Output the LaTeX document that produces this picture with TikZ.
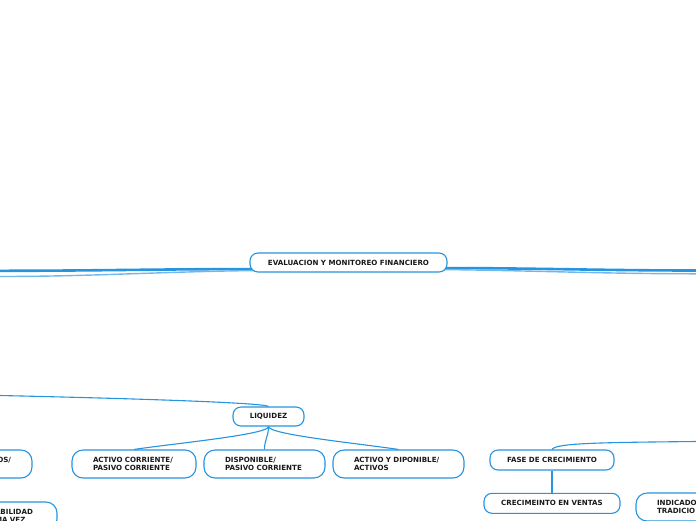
\documentclass[tikz,border=0pt]{standalone}
\usepackage{fontspec}
\setmainfont{DejaVu Sans}
\usetikzlibrary{calc}
\definecolor{mblue}{RGB}{38,148,222}
\definecolor{lblue}{RGB}{110,185,236}
\definecolor{ink}{RGB}{25,25,25}
\pgfdeclarelayer{bg}
\pgfsetlayers{bg,main}
\tikzset{
  topic/.style={draw=mblue, line width=1.1pt, fill=white, rounded corners=8pt,
    font=\fontsize{7.1}{8}\selectfont\bfseries, text=ink, inner sep=0pt, align=center},
  twoline/.style={topic, rounded corners=11pt, minimum height=28pt, align=left,
    inner xsep=21pt, inner ysep=0pt},
  link/.style={draw=mblue, line width=1.1pt},
  mainlink/.style={draw=mblue, line width=2.6pt},
  sublink/.style={draw=lblue, line width=1.4pt},
}
\begin{document}
\begin{tikzpicture}[x=1pt, y=-1pt]
\path[use as bounding box] (0,0) rectangle (696,520);
\clip (0,0) rectangle (696,520);

% nodes
\node[topic, minimum width=197pt, minimum height=19pt] (root) at (348.5,262.5) {EVALUACION Y MONITOREO FINANCIERO};
\node[topic, minimum width=71pt, minimum height=19pt] (liq) at (268.5,416.5) {LIQUIDEZ};
\node[twoline, text width=82pt] (c1) at (134,464) {ACTIVO CORRIENTE/\\PASIVO CORRIENTE};
\node[twoline, text width=79pt] (c2) at (264.5,464) {DISPONIBLE/\\PASIVO CORRIENTE};
\node[twoline, text width=89pt] (c3) at (398.5,464) {ACTIVO Y DIPONIBLE/\\ACTIVOS};
\node[twoline, text width=82pt, align=right] (os) at (-30,464) {OS/\\\mbox{}};
\node[twoline, text width=41pt] (ab) at (15.5,516) {ABILIDAD\\MA VEZ};
\node[topic, minimum width=124pt, minimum height=20pt] (fase) at (552,460) {FASE DE CRECIMIENTO};
\node[topic, minimum width=136pt, minimum height=20pt] (cv) at (552,503.3) {CRECIMEINTO EN VENTAS};
\node[twoline, text width=82pt] (ind) at (698,507) {INDICADO\\TRADICIO};

% off-canvas ends
\coordinate (L1) at (0,270.8);
\coordinate (L2) at (0,276.5);
\coordinate (R1) at (696,270.5);
\coordinate (R2) at (696,273.8);
\coordinate (LQin) at (0,395.5);
\coordinate (Fin) at (696,441.5);

\begin{pgfonlayer}{bg}
\draw[mainlink] ($(root.south west)+(6,-3.5)$) .. controls +(-90,0) and +(90,0) .. (L1);
\draw[sublink] ($(root.south west)+(6,-2)$) .. controls +(-90,1) and +(90,0) .. (L2);
\draw[mainlink] ($(root.south east)+(-6,-4.5)$) .. controls +(90,0) and +(-90,0) .. (R1);
\draw[sublink] ($(root.south east)+(-6,-3)$) .. controls +(90,1) and +(-90,0) .. (R2);

\draw[link] (LQin) .. controls (200,400) and (266,404) .. (liq.north);
\draw[link] (liq.south) .. controls +(0,8) and +(40,-6) .. (c1.north);
\draw[link] (liq.south) .. controls +(0,10) and +(0,-10) .. (c2.north);
\draw[link] (liq.south) .. controls +(0,8) and +(-40,-6) .. (c3.north);

\draw[link] (Fin) .. controls (600,442.5) and (556,443) .. (fase.north);
\draw[link] (fase.south) -- (cv.north);
\end{pgfonlayer}
\end{tikzpicture}
\end{document}
